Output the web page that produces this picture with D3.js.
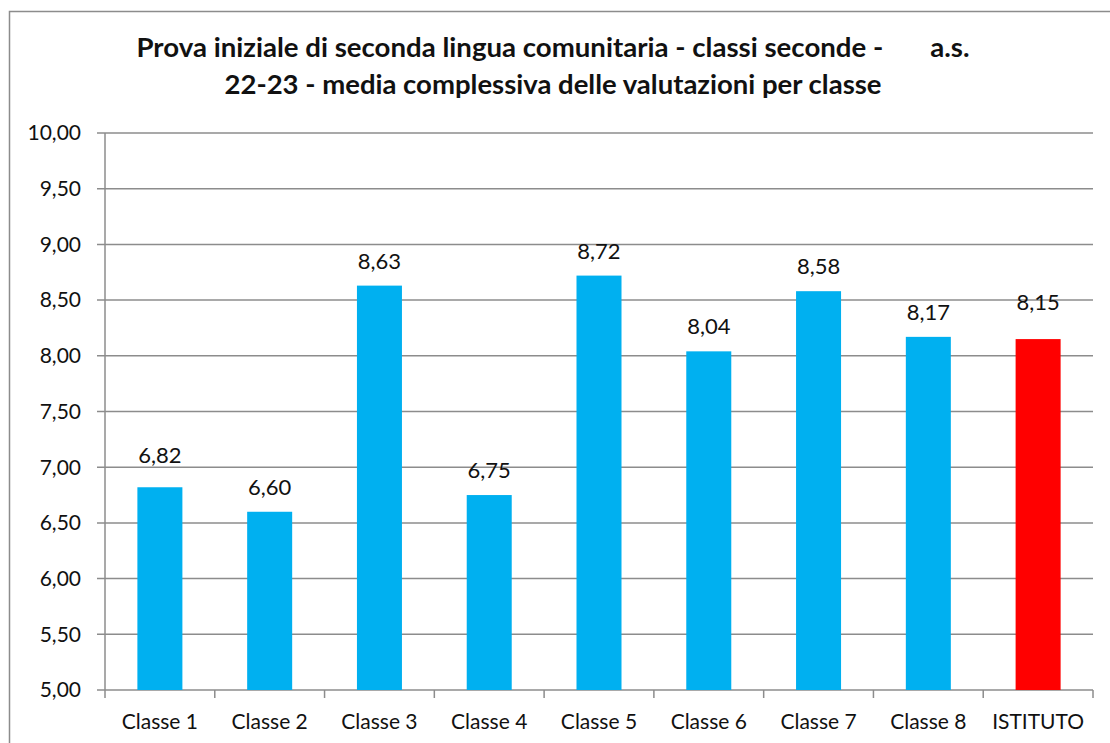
<!DOCTYPE html>
<html>
<head>
<meta charset="utf-8">
<script src="https://cdn.jsdelivr.net/npm/d3@7"></script>
<style>
  html, body { margin: 0; padding: 0; background: #fff; }
  svg { display: block; }
  text { font-family: Lato, "Open Sans", sans-serif; fill: #111; }
</style>
</head>
<body>
<svg id="chart" width="1110" height="743"></svg>
<script>
// Average grade per class (initial test, second community language)
const categories = ["Classe 1", "Classe 2", "Classe 3", "Classe 4", "Classe 5", "Classe 6", "Classe 7", "Classe 8", "ISTITUTO"];
const values = [6.82, 6.60, 8.63, 6.75, 8.72, 8.04, 8.58, 8.17, 8.15];
const yTicks = [5.0, 5.5, 6.0, 6.5, 7.0, 7.5, 8.0, 8.5, 9.0, 9.5, 10.0];
const titleLines = [
  "Prova iniziale di seconda lingua comunitaria - classi seconde -       a.s.",
  "22-23 - media complessiva delle valutazioni per classe"
];

const svg = d3.select("#chart");
const fmt = v => d3.format(".2f")(v).replace(".", ",");

// outer frame (open on the right and bottom)
svg.append("path")
  .attr("d", "M9.5,760 V11.5 H1120")
  .attr("fill", "none")
  .attr("stroke", "#8c8c8c")
  .attr("stroke-width", 1.5);

// title
const title = svg.append("text")
  .attr("text-anchor", "middle")
  .style("font-weight", "bold")
  .style("font-size", "26px")
  .style("white-space", "pre")
  .attr("xml:space", "preserve");
title.append("tspan").attr("x", 553).attr("y", 57).text(titleLines[0])
  .attr("textLength", 833).attr("lengthAdjust", "spacingAndGlyphs");
title.append("tspan").attr("x", 553).attr("y", 94).text(titleLines[1])
  .attr("textLength", 657).attr("lengthAdjust", "spacingAndGlyphs");

const plot = { left: 105, right: 1093, top: 133, bottom: 690 };

const x = d3.scaleBand().domain(categories).range([plot.left, plot.right]).padding(0);
const y = d3.scaleLinear().domain([5, 10]).range([plot.bottom, plot.top]);

// horizontal gridlines with outward tick
svg.append("g")
  .selectAll("line")
  .data(yTicks)
  .join("line")
  .attr("x1", plot.left - 8)
  .attr("x2", plot.right)
  .attr("y1", d => y(d))
  .attr("y2", d => y(d))
  .attr("stroke", "#8c8c8c")
  .attr("stroke-width", 1.5);

// y axis line
svg.append("line")
  .attr("x1", plot.left).attr("x2", plot.left)
  .attr("y1", plot.top).attr("y2", plot.bottom)
  .attr("stroke", "#8c8c8c").attr("stroke-width", 1.5);

// y tick labels
svg.append("g")
  .selectAll("text")
  .data(yTicks)
  .join("text")
  .attr("x", 81)
  .attr("y", d => y(d))
  .attr("dy", "0.35em")
  .attr("text-anchor", "end")
  .style("font-size", "21px")
  .text(d => fmt(d));

// x axis category ticks (band boundaries)
const bounds = categories.map(c => x(c)).concat([x(categories[categories.length - 1]) + x.bandwidth()]);
svg.append("g")
  .selectAll("line")
  .data(bounds)
  .join("line")
  .attr("x1", d => d).attr("x2", d => d)
  .attr("y1", plot.bottom).attr("y2", plot.bottom + 8)
  .attr("stroke", "#8c8c8c").attr("stroke-width", 1.5);

// x tick labels
svg.append("g")
  .selectAll("text")
  .data(categories)
  .join("text")
  .attr("x", d => x(d) + x.bandwidth() / 2)
  .attr("y", 722)
  .attr("dy", "0.35em")
  .attr("text-anchor", "middle")
  .style("font-size", "21px")
  .text(d => d);

// bars
const barW = x.bandwidth() * 0.41;
const data = categories.map((c, i) => ({ c, v: values[i], total: c === "ISTITUTO" }));
svg.append("g")
  .selectAll("rect")
  .data(data)
  .join("rect")
  .attr("x", d => x(d.c) + (x.bandwidth() - barW) / 2)
  .attr("width", barW)
  .attr("y", d => y(d.v))
  .attr("height", d => y(5) - y(d.v))
  .attr("fill", d => d.total ? "#ff0000" : "#00b0f0");

// value labels; a couple were nudged upward by hand
const labelLift = { "Classe 1": 24, "ISTITUTO": 29 };
svg.append("g")
  .selectAll("text")
  .data(data)
  .join("text")
  .attr("x", d => x(d.c) + x.bandwidth() / 2)
  .attr("y", d => y(d.v) - (labelLift[d.c] || 17))
  .attr("text-anchor", "middle")
  .style("font-size", "22px")
  .text(d => fmt(d.v));
</script>
</body>
</html>
